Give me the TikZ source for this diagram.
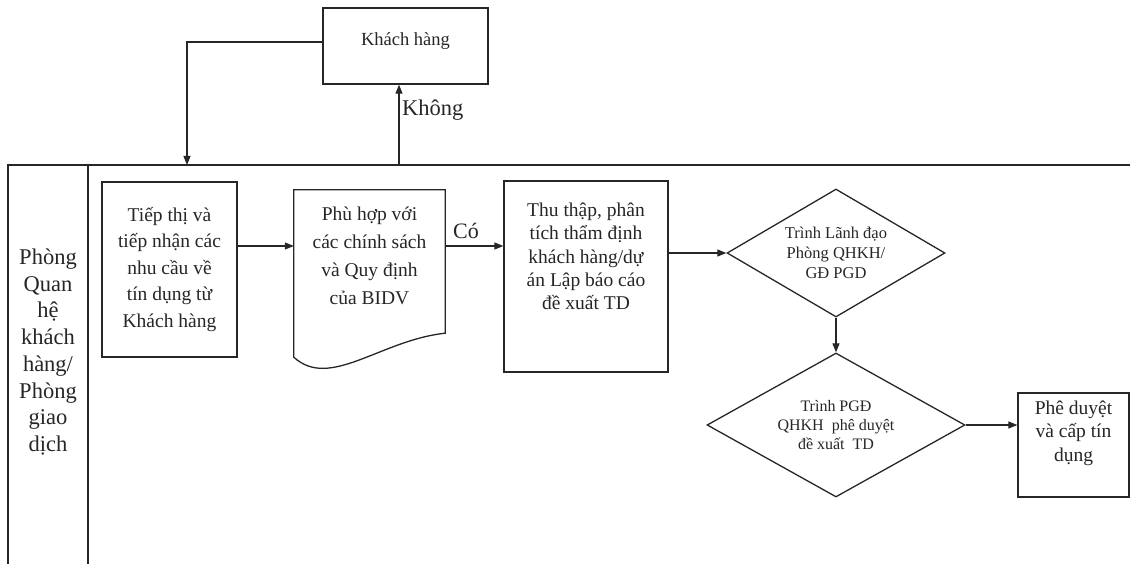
\documentclass[tikz,border=0pt]{standalone}
\usepackage{fontspec}
\setmainfont{Liberation Serif}
\usetikzlibrary{shapes.geometric,arrows.meta,calc}
\begin{document}
\begin{tikzpicture}[x=1pt,y=-1pt,
  ln/.style={draw=black!85, line width=1.3pt},
  boxst/.style={ln, rectangle, inner sep=0pt, align=center, text=black!85},
  dia/.style={ln, diamond, inner sep=0pt, align=center, text=black!85},
  txt/.style={align=center, text=black!85},
  arr/.style={draw=black!85, line width=1.1pt, -{Triangle[length=9pt,width=7pt]}},
  bigf/.style={font=\fontsize{19.5}{26.5}\selectfont},
  lanef/.style={font=\fontsize{22.5}{26.7}\selectfont},
  smallf/.style={font=\fontsize{16.5}{20}\selectfont},
]
\useasboundingbox (0,0) rectangle (1130,564);

% swimlane
\draw[ln] (8,564) -- (8,165) -- (1130,165);
\draw[ln] (88,165) -- (88,564);
\node[txt, lanef] (lane) at (48,352) {Phòng\\Quan\\hệ\\khách\\hàng/\\Phòng\\giao\\dịch};

% customer box
\node[boxst, minimum width=165pt, minimum height=76pt,
  label={[txt, font=\fontsize{18.5}{22}\selectfont, yshift=5pt]center:Khách hàng}] (kh) at (405.5,46) {};

% step 1
\node[boxst, bigf, minimum width=135pt, minimum height=175pt] (tiep) at (169.5,269.5)
  {Tiếp thị và\\tiếp nhận các\\nhu cầu về\\tín dụng từ\\Khách hàng};

% document shape
\node[txt, font=\fontsize{19.5}{28}\selectfont, minimum width=151pt, minimum height=132pt, inner sep=0pt] (doc) at (369.5,256)
  {Phù hợp với\\các chính sách\\và Quy định\\của BIDV};
\draw[ln] (doc.north west) -- (doc.north east) -- ($(doc.south east)+(0,11)$)
  .. controls ($(doc.south east)+(-65,18)$) and ($(doc.south west)+(36,68)$) .. ($(doc.south west)+(0,35)$) -- cycle;

% step 3
\node[boxst, minimum width=164pt, minimum height=191pt,
  label={[txt, font=\fontsize{19.5}{23.3}\selectfont, yshift=20pt]center:{Thu thập, phân\\tích thẩm định\\khách hàng/dự\\án Lập báo cáo\\đề xuất TD}}] (thu) at (586,276.5) {};

% diamonds
\node[dia, smallf, aspect=1.7, minimum width=218pt, minimum height=128pt] (d1) at (836,253)
  {Trình Lãnh đạo\\Phòng QHKH/\\GĐ PGD};
\node[dia, font=\fontsize{16}{19}\selectfont, aspect=1.8, minimum width=258pt, minimum height=144pt] (d2) at (836,425)
  {Trình PGĐ\\QHKH\ \ phê duyệt\\đề xuất\ \ TD};

% final box
\node[boxst, minimum width=111pt, minimum height=104pt,
  label={[txt, font=\fontsize{19.5}{23.5}\selectfont, yshift=12pt]center:{Phê duyệt\\và cấp tín\\dụng}}] (pd) at (1073.5,445) {};

% connectors
\coordinate (c1) at (187,165);
\coordinate (c2) at (399,165);
\coordinate (ya) at (0,246);
\draw[arr] ([yshift=4pt]kh.west) -| (c1);
\draw[arr] (c2) -- (c2 |- kh.south);
\node[txt, font=\fontsize{22.5}{26}\selectfont, anchor=west, inner sep=0pt] (khong) at (402,110) {Không};
\draw[arr] (tiep.east |- ya) -- (doc.west |- ya);
\draw[arr] (doc.east |- ya) -- (thu.west |- ya);
\node[txt, font=\fontsize{22}{26}\selectfont, inner sep=0pt] (co) at (466,231) {Có};
\draw[arr] (thu.east |- d1.west) -- (d1.west);
\draw[arr] (d1.south) -- (d2.north);
\draw[arr] (d2.east) -- (d2.east -| pd.west);
\end{tikzpicture}
\end{document}
